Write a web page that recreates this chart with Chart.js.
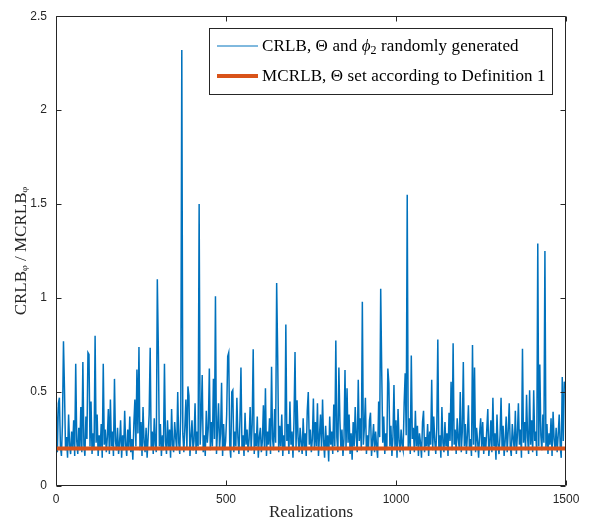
<!DOCTYPE html>
<html><head><meta charset="utf-8">
<script src="https://cdn.jsdelivr.net/npm/chart.js@4.4.1/dist/chart.umd.min.js"></script>
<style>html,body{margin:0;padding:0;background:#fff;}#wrap{width:590px;height:525px;}</style>
</head><body><div id="wrap"><canvas id="c" width="590" height="525"></canvas></div>
<script>
// CRLB_phi / MCRLB_phi (one value per ~3 realizations)
const crlbRatio = [
0.42,0.18,0.44,0.47,0.21,0.16,0.33,0.77,0.51,0.19,0.26,0.15,0.38,0.22,0.17,0.29,0.20,0.35,0.16,0.65,
0.24,0.17,0.31,0.19,0.42,0.18,0.66,0.22,0.16,0.37,0.25,0.71,0.70,0.21,0.45,0.17,0.28,0.19,0.80,0.23,
0.38,0.16,0.27,0.20,0.33,0.15,0.65,0.22,0.30,0.18,0.26,0.41,0.17,0.46,0.21,0.29,0.16,0.57,0.24,0.19,
0.31,0.17,0.23,0.35,0.15,0.27,0.19,0.40,0.22,0.16,0.30,0.20,0.37,0.18,0.25,0.14,0.33,0.46,0.21,0.62,
0.28,0.74,0.19,0.34,0.16,0.42,0.23,0.18,0.31,0.15,0.26,0.38,0.735,0.20,0.29,0.17,0.36,0.22,0.18,1.10,
0.73,0.21,0.33,0.16,0.27,0.19,0.65,0.24,0.17,0.35,0.20,0.30,0.15,0.41,0.22,0.18,0.34,0.26,0.19,0.50,
0.23,0.17,0.39,2.32,0.28,0.18,0.31,0.46,0.20,0.53,0.48,0.16,0.26,0.35,0.19,0.24,0.44,0.17,0.29,0.21,
1.50,0.22,0.36,0.59,0.18,0.27,0.16,0.40,0.23,0.31,0.625,0.19,0.34,0.21,0.57,0.25,1.01,0.17,0.30,0.44,
0.20,0.28,0.55,0.16,0.33,0.19,0.24,0.38,0.69,0.71,0.22,0.15,0.50,0.51,0.18,0.29,0.21,0.47,0.26,0.17,
0.35,0.63,0.20,0.27,0.16,0.39,0.22,0.30,0.18,0.25,0.42,0.19,0.33,0.727,0.17,0.28,0.21,0.37,0.15,0.26,
0.31,0.18,0.24,0.43,0.20,0.52,0.16,0.29,0.22,0.36,0.17,0.634,0.25,0.19,0.41,0.23,1.08,0.695,0.18,0.32,
0.21,0.38,0.16,0.27,0.19,0.86,0.24,0.33,0.17,0.45,0.22,0.29,0.15,0.35,0.713,0.20,0.456,0.26,0.18,0.31,
0.23,0.17,0.36,0.20,0.28,0.16,0.40,0.50,0.22,0.30,0.18,0.25,0.465,0.19,0.34,0.21,0.44,0.16,0.27,0.38,
0.19,0.46,0.24,0.15,0.32,0.20,0.27,0.13,0.37,0.22,0.29,0.17,0.433,0.21,0.774,0.26,0.18,0.63,0.35,0.20,
0.30,0.16,0.25,0.617,0.19,0.52,0.23,0.38,0.17,0.28,0.14,0.34,0.21,0.42,0.26,0.18,0.565,0.24,0.36,0.19,
0.98,0.22,0.31,0.47,0.17,0.27,0.20,0.35,0.39,0.16,0.24,0.33,0.18,0.29,0.21,0.15,0.45,0.26,1.05,0.61,
0.23,0.37,0.17,0.28,0.19,0.625,0.547,0.21,0.32,0.16,0.26,0.538,0.20,0.35,0.15,0.41,0.24,0.18,0.30,0.22,
0.19,0.44,0.60,0.27,1.55,0.20,0.36,0.17,0.695,0.25,0.31,0.18,0.40,0.21,0.32,0.16,0.28,0.23,0.15,0.34,
0.40,0.18,0.26,0.21,0.33,0.16,0.29,0.22,0.565,0.19,0.37,0.24,0.17,0.31,0.78,0.20,0.27,0.15,0.42,0.23,
0.18,0.34,0.21,0.28,0.16,0.39,0.24,0.555,0.19,0.76,0.22,0.30,0.17,0.36,0.25,0.20,0.50,0.18,0.29,0.66,
0.21,0.33,0.17,0.27,0.43,0.19,0.25,0.16,0.75,0.22,0.63,0.18,0.31,0.24,0.15,0.28,0.36,0.20,0.34,0.17,
0.26,0.19,0.30,0.41,0.16,0.23,0.35,0.18,0.47,0.21,0.28,0.14,0.38,0.22,0.17,0.27,0.47,0.20,0.32,0.16,
0.24,0.37,0.18,0.29,0.44,0.21,0.16,0.33,0.25,0.19,0.40,0.17,0.27,0.44,0.22,0.30,0.15,0.73,0.23,0.34,
0.19,0.486,0.26,0.17,0.51,0.22,0.35,0.18,0.51,0.24,0.29,0.16,1.29,0.21,0.646,0.27,0.19,0.38,0.23,1.25,
0.20,0.33,0.17,0.28,0.22,0.36,0.16,0.395,0.25,0.19,0.31,0.18,0.27,0.38,0.21,0.15,0.58,0.24,0.555,0.52
];
const realizationStep = 3;
const realizations = crlbRatio.map((_, i) => 1 + realizationStep * i);
const mcrlbX = [1, 1500];
const mcrlbY = [0.2, 0.2];
const xTicks = [0, 500, 1000, 1500];
const yTicks = [0, 0.5, 1, 1.5, 2, 2.5];
const seriesLabels = ['CRLB, \u0398 and \u03d5\u2082 randomly generated', 'MCRLB, \u0398 set according to Definition 1'];
const xTitle = 'Realizations';
const yTitle = 'CRLB\u1d69 / MCRLB\u1d69';

const AX = '#262626';
const BLUE = '#0072BD';
const ORANGE = '#D95319';
const SERIF = "'Liberation Serif','DejaVu Serif',serif";
const SANS = "'Liberation Sans',Arial,sans-serif";

const boxPlugin = {
  id: 'matlabBox',
  afterDraw(chart) {
    const ctx = chart.ctx, a = chart.chartArea;
    const xs = chart.scales.x, ys = chart.scales.y;
    const L = Math.round(a.left) + 0.5, R = Math.round(a.right) - 0.5;
    const T = Math.round(a.top) + 0.5, B = Math.round(a.bottom) - 0.5;
    ctx.save();
    ctx.strokeStyle = AX; ctx.lineWidth = 1;
    ctx.beginPath();
    ctx.rect(L, T, R - L, B - T);
    const tl = 5;
    xTicks.forEach(v => {
      const px = Math.round(xs.getPixelForValue(v)) + 0.5;
      ctx.moveTo(px, B); ctx.lineTo(px, B - tl);
      ctx.moveTo(px, T); ctx.lineTo(px, T + tl);
    });
    yTicks.forEach(v => {
      const py = Math.round(ys.getPixelForValue(v)) + 0.5;
      ctx.moveTo(L, py); ctx.lineTo(L + tl, py);
      ctx.moveTo(R, py); ctx.lineTo(R - tl, py);
    });
    ctx.stroke();

    // legend
    const lx = 209.5, ly = 28.5, lw = 343, lh = 66;
    ctx.fillStyle = '#fff';
    ctx.fillRect(lx, ly, lw, lh);
    ctx.strokeStyle = AX; ctx.lineWidth = 1;
    ctx.strokeRect(lx, ly, lw, lh);
    const ds = chart.data.datasets;
    const rows = [46, 76];
    ds.forEach((d, i) => {
      ctx.strokeStyle = d.borderColor;
      ctx.lineWidth = i === 0 ? 1 : 4;
      ctx.beginPath();
      ctx.moveTo(217, rows[i]); ctx.lineTo(258, rows[i]);
      ctx.stroke();
    });
    ctx.fillStyle = '#000';
    ctx.textBaseline = 'middle';
    ctx.textAlign = 'left';
    try { ctx.letterSpacing = '0.12px'; } catch (e) {}
    const fs = 17;
    const normal = fs + 'px ' + SERIF;
    let x = 262, y = rows[0] + 1;
    ctx.font = normal;
    const p1 = 'CRLB, \u0398 and ';
    ctx.fillText(p1, x, y); x += ctx.measureText(p1).width;
    ctx.font = 'italic ' + normal;
    ctx.fillText('\u03d5', x, y); x += ctx.measureText('\u03d5').width;
    ctx.font = '12px ' + SERIF;
    ctx.fillText('2', x, y + 4); x += ctx.measureText('2').width;
    ctx.font = normal;
    ctx.fillText(' randomly generated', x, y);
    ctx.fillText(ds[1].label, 262, rows[1] + 1);
    ctx.restore();
  }
};

new Chart(document.getElementById('c'), {
  type: 'line',
  data: {
    datasets: [
      { label: seriesLabels[0], data: realizations.map((r, i) => ({ x: r, y: crlbRatio[i] })),
        borderColor: BLUE, borderWidth: 1.5, pointRadius: 0, tension: 0, order: 1 },
      { label: seriesLabels[1], data: mcrlbX.map((r, i) => ({ x: r, y: mcrlbY[i] })),
        borderColor: ORANGE, borderWidth: 4, pointRadius: 0, tension: 0, order: 0 }
    ]
  },
  options: {
    responsive: false, animation: false, devicePixelRatio: 1,
    layout: { padding: { left: 0, right: 24, top: 9, bottom: 0 } },
    plugins: { legend: { display: false }, tooltip: { enabled: false } },
    scales: {
      x: {
        type: 'linear', min: 0, max: 1500,
        afterBuildTicks: s => { s.ticks = xTicks.map(v => ({ value: v })); },
        afterFit: s => { s.height = 39; },
        grid: { display: false, drawTicks: false }, border: { display: false },
        ticks: { color: AX, font: { family: SANS, size: 12 }, padding: 6, maxRotation: 0, callback: v => String(v) },
        title: { display: true, text: xTitle, color: AX, font: { family: SERIF, size: 17 }, padding: { top: 0, bottom: 2 } }
      },
      y: {
        min: 0, max: 2.5,
        afterBuildTicks: s => { s.ticks = yTicks.map(v => ({ value: v })); },
        afterFit: s => { s.width = 56; },
        grid: { display: false, drawTicks: false }, border: { display: false },
        ticks: { color: AX, font: { family: SANS, size: 12 }, padding: 9, callback: v => String(v) },
        title: { display: true, text: yTitle, color: AX, font: { family: SERIF, size: 17 }, padding: { top: 11, bottom: 0 } }
      }
    }
  },
  plugins: [boxPlugin]
});
</script>
</body></html>
